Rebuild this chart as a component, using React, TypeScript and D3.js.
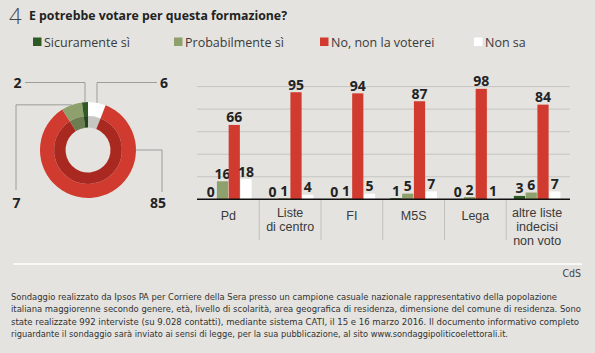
import React, { useRef, useEffect } from "react";
import * as d3 from "d3";

// dati
const categories = ["Pd", "Liste\ndi centro", "FI", "M5S", "Lega", "altre liste\nindecisi\nnon voto"];
const series = ["Sicuramente sì", "Probabilmente sì", "No, non la voterei", "Non sa"];
const sicuramente = [0, 0, 0, 1, 0, 3];
const probabilmente = [16, 1, 1, 5, 2, 6];
const noVoterei = [66, 95, 94, 87, 98, 84];
const nonSa = [18, 4, 5, 7, 1, 7];
// totale (ciambella): sicuramente, probabilmente, no, non sa
const totale = [2, 7, 85, 6];
const gridTicks = [20, 40, 60, 80, 100];

const footnote = [
  "Sondaggio realizzato da Ipsos PA per Corriere della Sera presso un campione casuale nazionale rappresentativo della popolazione",
  "italiana maggiorenne secondo genere, età, livello di scolarità, area geografica di residenza, dimensione del comune di residenza. Sono",
  "state realizzate 992 interviste (su 9.028 contatti), mediante sistema CATI, il 15  e 16 marzo 2016. Il documento informativo completo",
  "riguardante il sondaggio sarà inviato ai sensi di legge, per la sua pubblicazione, al sito www.sondaggipoliticoelettorali.it."
];
const footnoteWidths = [546, 570, 568, 497];

const font = "'Open Sans', Lato, 'DejaVu Sans', sans-serif";
const labelFont = "'Liberation Sans', Arial, sans-serif";
const narrow = "'Liberation Sans Narrow', 'DejaVu Sans Condensed', 'Liberation Sans', sans-serif";
const colors = ["#2f5a24", "#8ea06b", "#d13a2e", "#ffffff"];
const darkColors = ["#25461d", "#6d7d52", "#a92820", "#c6c6c3"];

export default function App() {
  const ref = useRef<SVGSVGElement>(null);

  useEffect(() => {
    const width = 595, height = 353;
    const svg = d3.select(ref.current);
    svg.selectAll("*").remove();
    svg.attr("width", width).attr("height", height).style("font-family", font);

    svg.append("rect").attr("width", width).attr("height", height).attr("fill", "#e4e3df");

    // titolo
    svg.append("text").attr("x", 9).attr("y", 23.5).attr("font-size", 22).attr("font-weight", 300)
      .attr("fill", "#444").text("4");
    svg.append("text").attr("x", 29).attr("y", 19.5).attr("font-size", 13).attr("font-weight", "bold")
      .attr("fill", "#222").attr("textLength", 258).attr("lengthAdjust", "spacingAndGlyphs")
      .text("E potrebbe votare per questa formazione?");

    // legenda
    const legendX = [33, 174, 320, 474];
    series.forEach((s, i) => {
      svg.append("rect").attr("x", legendX[i]).attr("y", 37.5).attr("width", 8.5).attr("height", 8.5)
        .attr("fill", colors[i]);
      svg.append("text").attr("x", legendX[i] + 11).attr("y", 46.5).attr("font-size", 12.5)
        .attr("fill", "#3a3a3a").text(s);
    });

    // ciambella
    const cx = 88, cy = 150, R = 48;
    const order = [3, 2, 1, 0]; // senso orario dall'alto: non sa, no, probabilmente, sicuramente
    const pie = d3.pie<number>().sort(null).value(i => totale[i]);
    const arcs = pie(order);
    const outer = d3.arc<d3.PieArcDatum<number>>().innerRadius(34).outerRadius(R);
    const inner = d3.arc<d3.PieArcDatum<number>>().innerRadius(22.5).outerRadius(34);
    const donut = svg.append("g").attr("transform", `translate(${cx},${cy})`);
    donut.selectAll("path.o").data(arcs).join("path").attr("class", "o")
      .attr("d", outer).attr("fill", d => colors[d.data]);
    donut.selectAll("path.i").data(arcs).join("path").attr("class", "i")
      .attr("d", inner).attr("fill", d => darkColors[d.data]);

    const arcOf = (k: number) => arcs.find(a => a.data === k)!;
    const pt = (ang: number) => [cx + R * Math.sin(ang), cy - R * Math.cos(ang)];
    const mid = (k: number) => { const a = arcOf(k); return (a.startAngle + a.endAngle) / 2 - 2 * Math.PI * (a.startAngle > Math.PI ? 1 : 0); };
    const leaders = [
      { k: 0, ang: mid(0), tx: 17.5, ty: 87.5, path: (p: number[]) => [[25, 82.5], [p[0], 82.5], p] },
      { k: 3, ang: mid(3), tx: 164, ty: 87.5, path: (p: number[]) => [[157, 82.5], [p[0], 82.5], p] },
      { k: 1, ang: mid(1), tx: 16.5, ty: 207.5, path: (p: number[]) => [[16, 190], [16, p[1]], p] },
      { k: 2, ang: Math.PI / 2, tx: 158, ty: 207.5, path: (p: number[]) => [[162, 192], [162, p[1]], p] }
    ];
    leaders.forEach(l => {
      const p = pt(l.ang);
      svg.append("path").attr("d", d3.line()(l.path(p) as [number, number][]))
        .attr("fill", "none").attr("stroke", "#8c8c8a").attr("stroke-width", 0.8);
      svg.append("text").attr("x", l.tx).attr("y", l.ty).attr("text-anchor", "middle")
        .attr("font-size", 14).attr("font-weight", "bold").attr("fill", "#222").text(totale[l.k]);
    });

    // istogramma
    const values = [sicuramente, probabilmente, noVoterei, nonSa];
    const x0 = d3.scaleBand().domain(categories).range([197.5, 568]);
    const x1 = d3.scaleBand().domain(series).range([0, x0.bandwidth()]).paddingInner(0.05).paddingOuter(0.645);
    const y = d3.scaleLinear().domain([0, 100]).range([199.3, 86.6]);

    svg.append("g").selectAll("line").data(gridTicks).join("line")
      .attr("x1", 197).attr("x2", 570).attr("y1", d => y(d)).attr("y2", d => y(d))
      .attr("stroke", "#bdbdba").attr("stroke-width", 0.8);

    const groups = svg.append("g").selectAll("g").data(categories).join("g")
      .attr("transform", c => `translate(${x0(c)},0)`);
    groups.each(function (c, ci) {
      const g = d3.select(this);
      series.forEach((s, si) => {
        const v = values[si][ci];
        g.append("rect").attr("x", x1(s)!).attr("width", x1.bandwidth())
          .attr("y", y(v)).attr("height", y(0) - y(v)).attr("fill", colors[si]);
        g.append("text").attr("x", x1(s)! + x1.bandwidth() / 2).attr("y", y(v) - 2.5)
          .attr("text-anchor", "middle").attr("font-size", 14).attr("font-weight", "bold")
          .attr("fill", "#222").text(v);
      });
      // etichetta categoria
      const lines = c.split("\n");
      lines.forEach((t, li) => {
        g.append("text").attr("x", x0.bandwidth() / 2)
          .attr("y", lines.length === 1 ? 220 : 216.5 + li * 14.3)
          .attr("text-anchor", "middle").attr("font-size", 12.5).attr("font-family", labelFont)
          .attr("fill", "#3a3a3a").text(t);
      });
    });

    // separatori categorie
    svg.append("g").selectAll("line").data(categories.slice(1)).join("line")
      .attr("x1", c => x0(c)!).attr("x2", c => x0(c)!).attr("y1", 199).attr("y2", 240)
      .attr("stroke", "#b8b8b5").attr("stroke-width", 0.8);

    svg.append("line").attr("x1", 197).attr("x2", 570).attr("y1", y(0)).attr("y2", y(0))
      .attr("stroke", "#111").attr("stroke-width", 1.5);

    // piede
    svg.append("line").attr("x1", 13).attr("x2", 582).attr("y1", 264).attr("y2", 264)
      .attr("stroke", "#fff").attr("stroke-width", 1.5);
    svg.append("text").attr("x", 581).attr("y", 277).attr("text-anchor", "end")
      .attr("font-size", 10.5).attr("fill", "#444").attr("font-family", narrow).text("CdS");
    footnote.forEach((t, i) => {
      svg.append("text").attr("x", 11).attr("y", 299.5 + i * 12.5).attr("font-size", 9.5)
        .attr("font-family", narrow).attr("fill", "#333")
        .attr("textLength", footnoteWidths[i]).attr("lengthAdjust", "spacingAndGlyphs").text(t);
    });
  }, []);

  return <svg ref={ref} style={{ position: "absolute", left: 0, top: 0, display: "block" }}></svg>;
}
